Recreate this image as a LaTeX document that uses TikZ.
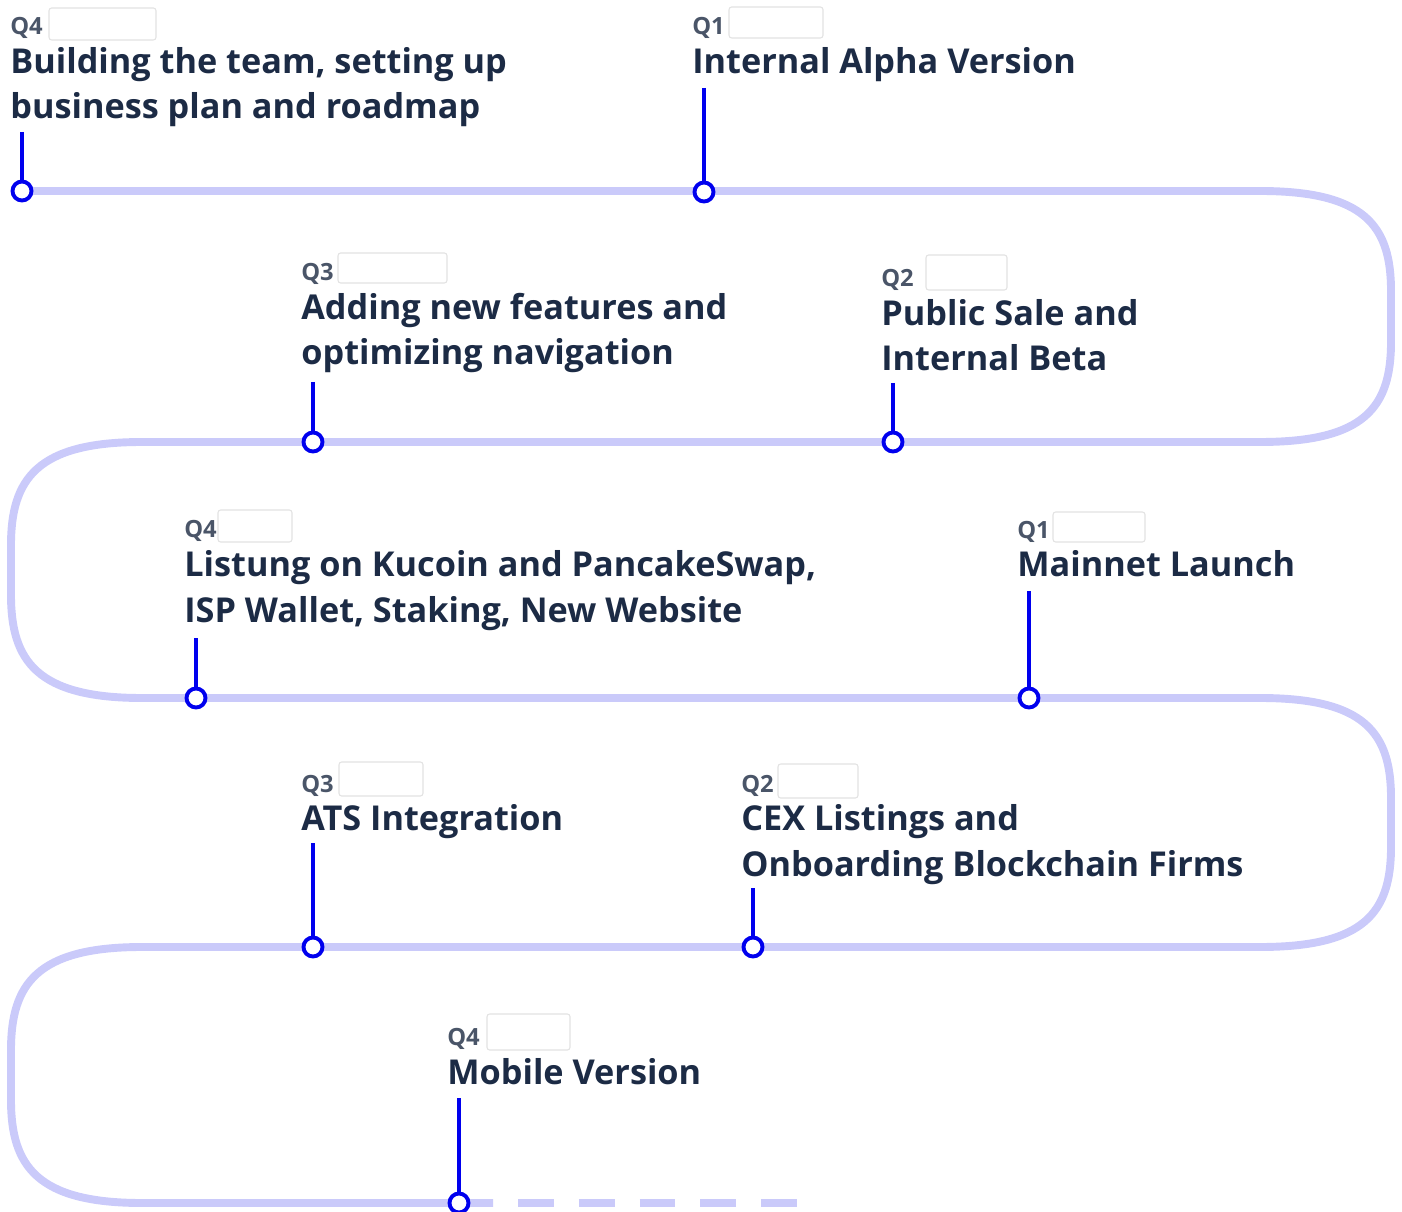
\documentclass[tikz,border=0pt]{standalone}
\usepackage{fontspec}
\setmainfont{Open Sans}
\usetikzlibrary{positioning}
\definecolor{roadlilac}{RGB}{202, 202, 250}
\definecolor{pinblue}{RGB}{0, 0, 238}
\definecolor{inknavy}{RGB}{28, 43, 69}
\definecolor{qgray}{RGB}{74, 85, 104}
\definecolor{boxline}{RGB}{226, 226, 226}

\tikzset{
    road/.style={roadlilac, line width=4.5pt},
    pin/.style={circle, draw=pinblue, fill=white, line width=2.2pt, minimum size=0.38cm, inner sep=0pt},
    stem/.style={pinblue, line width=1.9pt},
    quarter/.style={anchor=base west, inner sep=0pt, text=qgray, font=\fontsize{13.5}{14}\selectfont\bfseries},
    blank/.style={draw=boxline, fill=white, rounded corners=1.5pt, line width=0.6pt, inner sep=0pt},
    title/.style={anchor=base west, inner sep=0pt, align=left, text=inknavy, font=\fontsize{19.5}{26}\selectfont\bfseries}
}

\begin{document}
\begin{tikzpicture}[x=0.02cm, y=-0.02cm]
            \useasboundingbox (0,0) rectangle (1402,1212);
            % Winding road
            \draw[road] (22,191) -- (1260,191)
                .. controls (1365,191) and (1391,226) .. (1391,291) -- (1391,342)
                .. controls (1391,407) and (1365,442) .. (1260,442)
                -- (142,442)
                .. controls (37,442) and (11,479) .. (11,545) -- (11,595)
                .. controls (11,661) and (37,698) .. (142,698)
                -- (1260,698)
                .. controls (1365,698) and (1391,733) .. (1391,798) -- (1391,847)
                .. controls (1391,912) and (1365,947) .. (1260,947)
                -- (142,947)
                .. controls (37,947) and (11,984) .. (11,1050) -- (11,1100)
                .. controls (11,1166) and (37,1203) .. (142,1203)
                -- (493,1203);
            \draw[road, dash pattern=on 20.4pt off 14.2pt] (518,1203) -- (799,1203);
            % Q4 - team (two-line titles sit on their last baseline)
            \node[quarter] (q1) at (10,35) {Q4};
            \node[blank, minimum width=2.14cm, minimum height=0.64cm] (b1) at (102.5,24) {};
            \node[title] (t1) at (10,119) {Building the team, setting up\\business plan and roadmap};
            \node[pin] (m1) at (22,191) {};
            \coordinate (s1) at (22,132);
            \draw[stem] (s1) -- (m1);
            % Q1 - alpha
            \node[quarter] (q2) at (692,35) {Q1};
            \node[blank, minimum width=1.88cm, minimum height=0.62cm] (b2) at (776,22.5) {};
            \node[title] (t2) at (692,74) {Internal Alpha Version};
            \node[pin] (m2) at (704,192) {};
            \coordinate (s2) at (704,88);
            \draw[stem] (s2) -- (m2);
            % Q3 - features
            \node[quarter] (q3) at (301,281) {Q3};
            \node[blank, minimum width=2.18cm, minimum height=0.60cm] (b3) at (392.5,268) {};
            \node[title] (t3) at (301,365) {Adding new features and\\optimizing navigation};
            \node[pin] (m3) at (313,442) {};
            \coordinate (s3) at (313,382);
            \draw[stem] (s3) -- (m3);
            % Q2 - public sale
            \node[quarter] (q4) at (881,287) {Q2};
            \node[blank, minimum width=1.62cm, minimum height=0.70cm] (b4) at (966.5,272.5) {};
            \node[title] (t4) at (881,371) {Public Sale and\\Internal Beta};
            \node[pin] (m4) at (893,442) {};
            \coordinate (s4) at (893,383);
            \draw[stem] (s4) -- (m4);
            % Q4 - listing
            \node[quarter] (q5) at (184,538) {Q4};
            \node[blank, minimum width=1.48cm, minimum height=0.64cm] (b5) at (255,526) {};
            \node[title] (t5) at (184,622) {Listung on Kucoin and PancakeSwap,\\ISP Wallet, Staking, New Website};
            \node[pin] (m5) at (196,698) {};
            \coordinate (s5) at (196,638);
            \draw[stem] (s5) -- (m5);
            % Q1 - mainnet
            \node[quarter] (q6) at (1017,539) {Q1};
            \node[blank, minimum width=1.84cm, minimum height=0.60cm] (b6) at (1099,527) {};
            \node[title] (t6) at (1017,577) {Mainnet Launch};
            \node[pin] (m6) at (1029,698) {};
            \coordinate (s6) at (1029,591);
            \draw[stem] (s6) -- (m6);
            % Q3 - ATS
            \node[quarter] (q7) at (301,792) {Q3};
            \node[blank, minimum width=1.68cm, minimum height=0.68cm] (b7) at (381,779) {};
            \node[title] (t7) at (301,830) {ATS Integration};
            \node[pin] (m7) at (313,947) {};
            \coordinate (s7) at (313,843);
            \draw[stem] (s7) -- (m7);
            % Q2 - CEX
            \node[quarter] (q8) at (741,792) {Q2};
            \node[blank, minimum width=1.60cm, minimum height=0.68cm] (b8) at (818,781) {};
            \node[title] (t8) at (741,876) {CEX Listings and\\Onboarding Blockchain Firms};
            \node[pin] (m8) at (753,947) {};
            \coordinate (s8) at (753,888);
            \draw[stem] (s8) -- (m8);
            % Q4 - mobile
            \node[quarter] (q9) at (447,1045) {Q4};
            \node[blank, minimum width=1.66cm, minimum height=0.72cm] (b9) at (528.5,1032) {};
            \node[title] (t9) at (447,1084) {Mobile Version};
            \node[pin] (m9) at (459,1203) {};
            \coordinate (s9) at (459,1098);
            \draw[stem] (s9) -- (m9);
\end{tikzpicture}
\end{document}
